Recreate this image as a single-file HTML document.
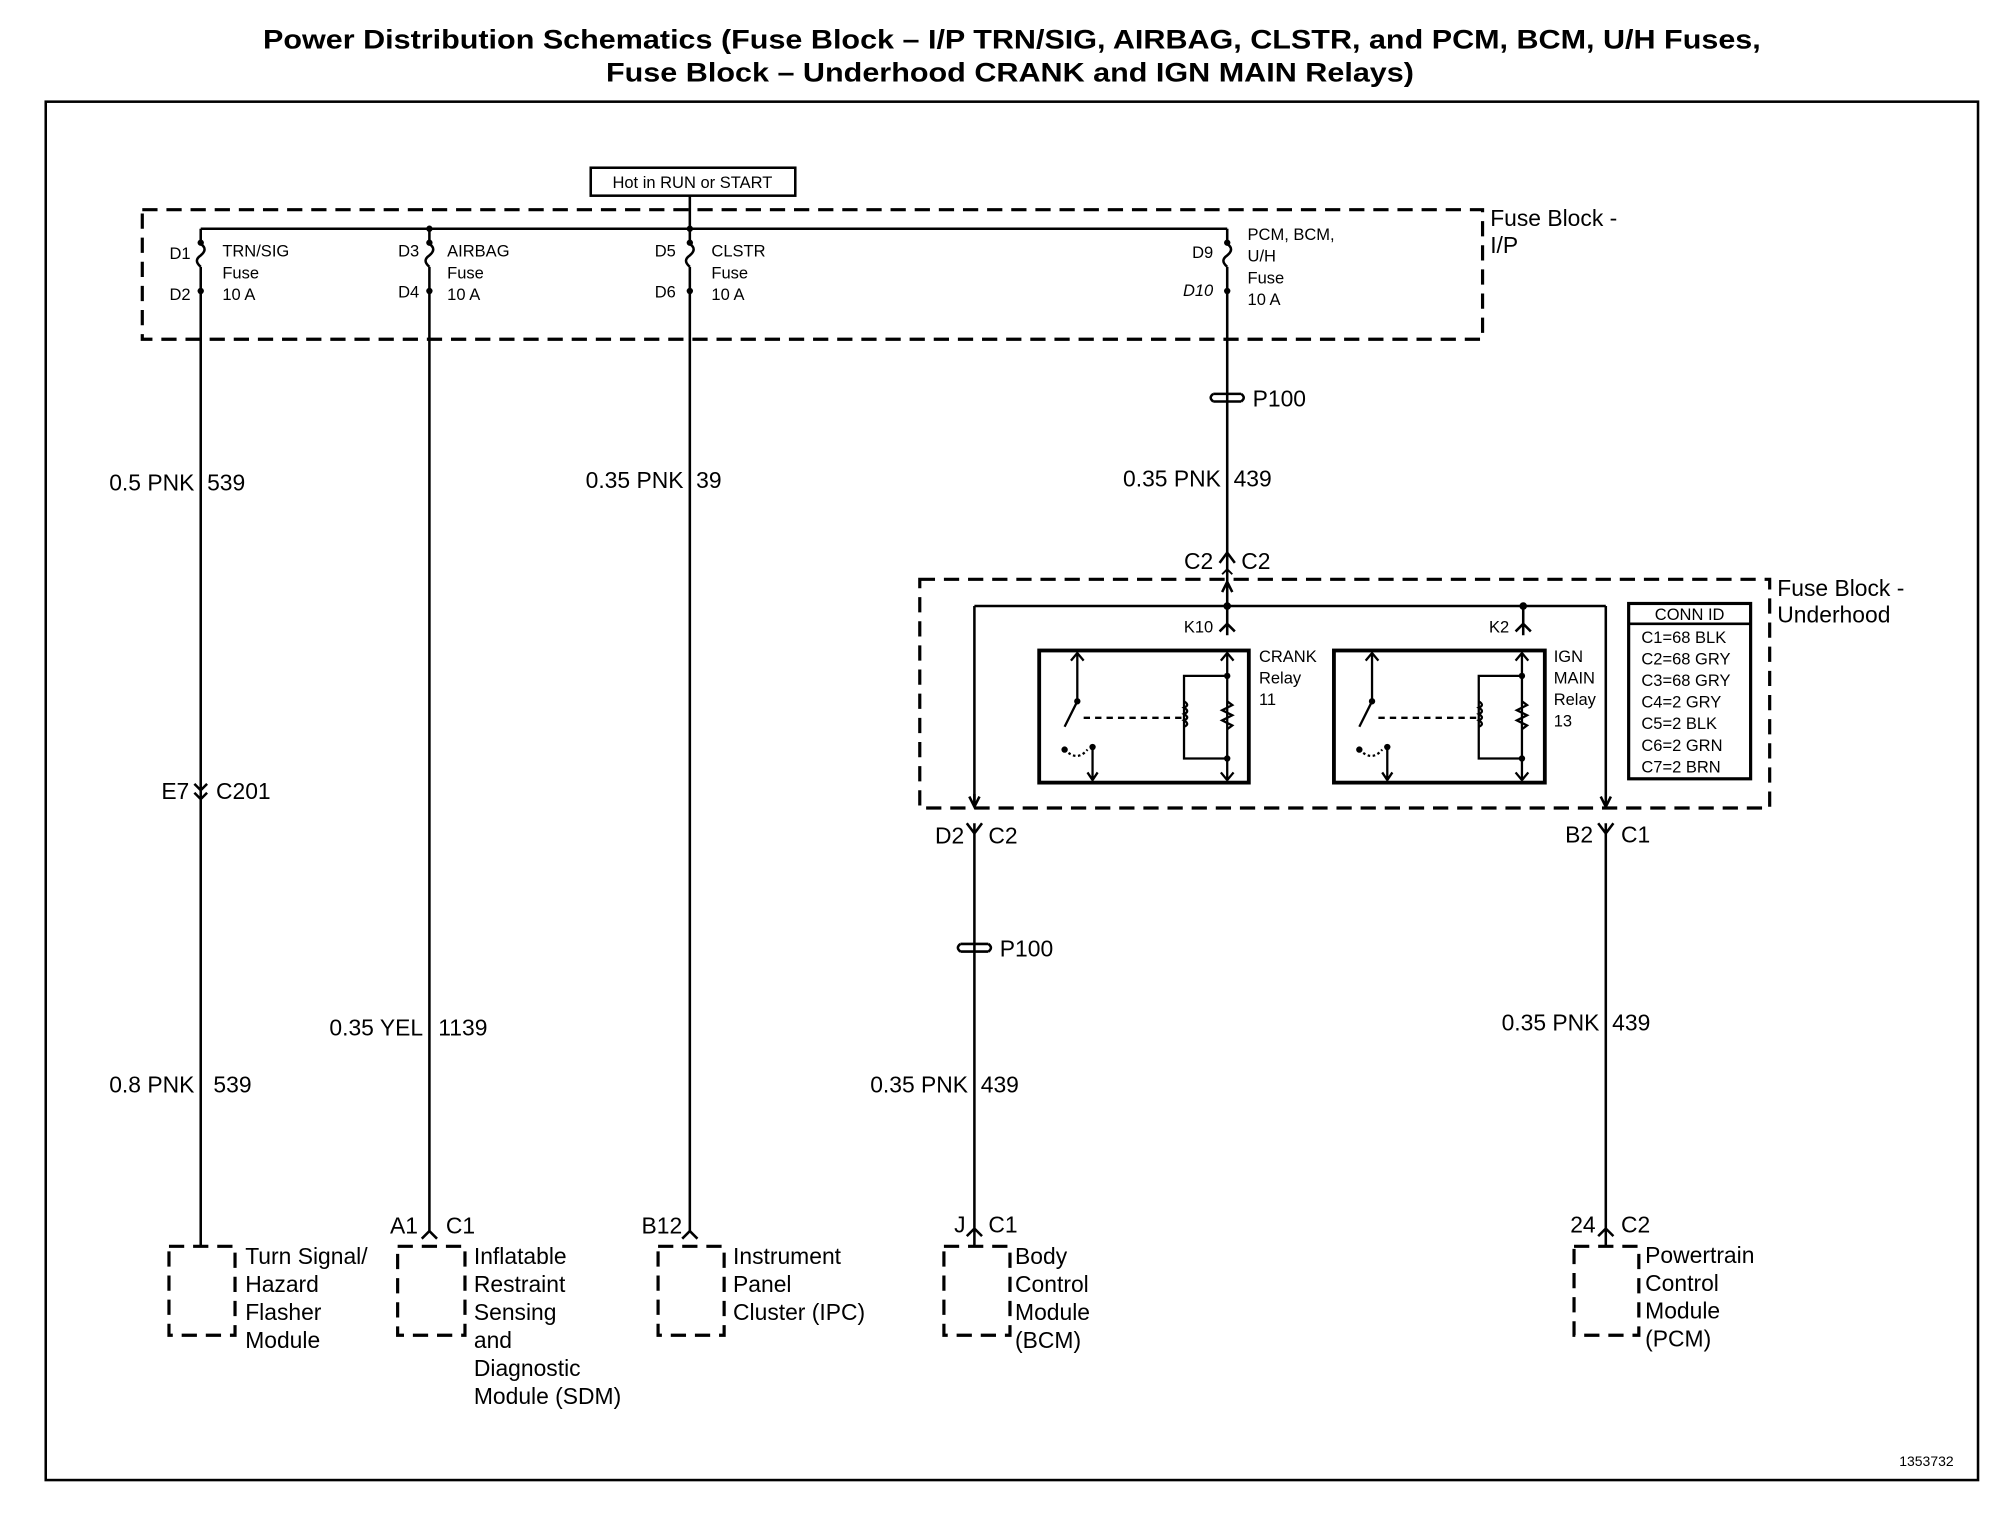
<!DOCTYPE html>
<html><head><meta charset="utf-8"><style>
html,body{margin:0;padding:0;background:#fff}
svg{display:block}
text{font-family:"Liberation Sans",sans-serif;fill:#000}
</style></head><body>
<svg width="1992" height="1536" viewBox="0 0 1568 1209" xmlns="http://www.w3.org/2000/svg">
<defs>
<marker id="ar" markerWidth="10" markerHeight="10" refX="5" refY="5" orient="auto" markerUnits="userSpaceOnUse"><path d="M1,1 L5,5 L1,9" fill="none" stroke="#000" stroke-width="1.5"/></marker>
</defs>
<g font-weight="bold" font-size="21">
<text x="207" y="38" textLength="1179" lengthAdjust="spacingAndGlyphs">Power Distribution Schematics (Fuse Block – I/P TRN/SIG, AIRBAG, CLSTR, and PCM, BCM, U/H Fuses,</text>
<text x="477" y="64" textLength="636" lengthAdjust="spacingAndGlyphs">Fuse Block – Underhood CRANK and IGN MAIN Relays)</text>
</g>
<rect x="36" y="80" width="1521" height="1085" fill="none" stroke="#000" stroke-width="2"/>
<rect x="465" y="132" width="161" height="22" fill="none" stroke="#000" stroke-width="2"/>
<text x="545" y="148" font-size="13" text-anchor="middle">Hot in RUN or START</text>
<g fill="none" stroke="#000" stroke-width="2.5" stroke-dasharray="12,7">
<rect x="112" y="165" width="1055" height="102"/>
<rect x="724" y="456" width="669" height="180"/>
<rect x="133" y="981" width="52" height="70"/>
<rect x="313" y="981" width="53" height="70"/>
<rect x="518" y="981" width="52" height="70"/>
<rect x="743" y="981" width="52" height="70"/>
<rect x="1239" y="981" width="51" height="70"/>
</g>
<g fill="none" stroke="#000" stroke-width="2">
<path d="M158,180 H966 M543,154 V180"/>
<path d="M158,180 V192 q6,4 0,9 q-6,4 0,9 M158,210 V980"/>
<path d="M338,180 V192 q6,4 0,9 q-6,4 0,9 M338,210 V970"/>
<path d="M543,180 V192 q6,4 0,9 q-6,4 0,9 M543,210 V970"/>
<path d="M966,180 V192 q6,4 0,9 q-6,4 0,9 M966,210 V448"/>
<path d="M966,448 V458" marker-end="url(#ar)" transform="rotate(180 966 453)"/>
<path d="M966,458 V500"/>
<path d="M767,477 H1264 M767,477 V634 M1264,477 V634 M1199,477 V500"/>
<path d="M767,625 v10 M763,627 l4,8 l4,-8 M1260,627 l4,8 l4,-8"/>
<path d="M962,466 l4,-8 l4,8"/>
<path d="M960,497 l6,-6 l6,6 M1193,497 l6,-6 l6,6"/>
<path d="M767,648 V930 M761,648 l6,8 l6,-8"/>
<path d="M1264,648 V930 M1258,648 l6,8 l6,-8"/>
<path d="M960,443 l6,-8 l6,8"/>
<path d="M767,930 V980 M761,973 l6,-6 l6,6"/>
<path d="M1264,930 V980 M1258,973 l6,-6 l6,6"/>
<path d="M332,975 l6,-6 l6,6 M537,975 l6,-6 l6,6"/>
<path d="M153,617 l5,5 l5,-5 M153,624 l5,5 l5,-5"/>
<path d="M955,310 h22 M955,316 h22 M955,310 q-4,3 0,6 M977,310 q4,3 0,6"/>
<path d="M756,743 h22 M756,749 h22 M756,743 q-4,3 0,6 M778,743 q4,3 0,6"/>
</g>
<g fill="#000">
<circle cx="158" cy="191" r="2.5"/><circle cx="158" cy="229" r="2.5"/>
<circle cx="338" cy="180" r="2.5"/><circle cx="338" cy="191" r="2.5"/><circle cx="338" cy="229" r="2.5"/>
<circle cx="543" cy="180" r="2.5"/><circle cx="543" cy="191" r="2.5"/><circle cx="543" cy="229" r="2.5"/>
<circle cx="966" cy="191" r="2.5"/><circle cx="966" cy="229" r="2.5"/>
<circle cx="966" cy="477" r="3"/><circle cx="1199" cy="477" r="3"/>
</g>
<g fill="none" stroke="#000">
<rect x="818" y="512" width="165" height="104" stroke-width="3"/>
<rect x="1050" y="512" width="166" height="104" stroke-width="3"/>
<g id="rl" stroke-width="1.8">
<path d="M848,514 V552 l-10,20 M843,520 l5,-6 l5,6"/>
<path d="M838,590 q10,10 18,0" stroke-dasharray="2,2"/>
<path d="M860,588 V614 M856,608 l4,6 l4,-6"/>
<path d="M853,565 H930" stroke-dasharray="5,4"/>
<path d="M966,514 V614 M961,520 l5,-6 l5,6 M961,608 l5,6 l5,-6"/>
<path d="M966,532 H932 V597 H966"/>
<path d="M932,552 q5,3 0,5 q5,3 0,5 q5,3 0,5 q5,3 0,5"/>
<path d="M966,552 l4,3 l-8,4 l8,4 l-8,4 l8,4 l-4,3"/>
</g>
<use href="#rl" x="232"/>
</g>
<g fill="#000">
<circle cx="848" cy="552" r="2.5"/><circle cx="838" cy="590" r="2.5"/><circle cx="860" cy="588" r="2.5"/><circle cx="966" cy="532" r="2.5"/><circle cx="966" cy="597" r="2.5"/>
<circle cx="1080" cy="552" r="2.5"/><circle cx="1070" cy="590" r="2.5"/><circle cx="1092" cy="588" r="2.5"/><circle cx="1198" cy="532" r="2.5"/><circle cx="1198" cy="597" r="2.5"/>
</g>
<rect x="1282" y="475" width="96" height="138" fill="none" stroke="#000" stroke-width="2.5"/>
<line x1="1282" y1="491" x2="1378" y2="491" stroke="#000" stroke-width="2"/>
<g font-size="13">
<text x="1330" y="488" text-anchor="middle">CONN ID</text>
<text x="1292" y="506">C1=68 BLK</text><text x="1292" y="523">C2=68 GRY</text><text x="1292" y="540">C3=68 GRY</text><text x="1292" y="557">C4=2 GRY</text><text x="1292" y="574">C5=2 BLK</text><text x="1292" y="591">C6=2 GRN</text><text x="1292" y="608">C7=2 BRN</text>
<text x="991" y="521">CRANK</text><text x="991" y="538">Relay</text><text x="991" y="555">11</text>
<text x="1223" y="521">IGN</text><text x="1223" y="538">MAIN</text><text x="1223" y="555">Relay</text><text x="1223" y="572">13</text>
<text x="955" y="498" text-anchor="end">K10</text><text x="1188" y="498" text-anchor="end">K2</text>
<text x="150" y="204" text-anchor="end">D1</text><text x="150" y="236" text-anchor="end">D2</text>
<text x="330" y="202" text-anchor="end">D3</text><text x="330" y="234" text-anchor="end">D4</text>
<text x="532" y="202" text-anchor="end">D5</text><text x="532" y="234" text-anchor="end">D6</text>
<text x="955" y="203" text-anchor="end">D9</text><text x="955" y="233" text-anchor="end" font-style="italic">D10</text>
<text x="175" y="202">TRN/SIG</text><text x="175" y="219">Fuse</text><text x="175" y="236">10 A</text>
<text x="352" y="202">AIRBAG</text><text x="352" y="219">Fuse</text><text x="352" y="236">10 A</text>
<text x="560" y="202">CLSTR</text><text x="560" y="219">Fuse</text><text x="560" y="236">10 A</text>
<text x="982" y="189">PCM, BCM,</text><text x="982" y="206">U/H</text><text x="982" y="223">Fuse</text><text x="982" y="240">10 A</text>
<text x="1495" y="1154" font-size="11">1353732</text>
</g>
<g font-size="18">
<text x="1173" y="178">Fuse Block -</text><text x="1173" y="199">I/P</text>
<text x="1399" y="469">Fuse Block -</text><text x="1399" y="490">Underhood</text>
<text x="986" y="320">P100</text><text x="787" y="753">P100</text>
<text x="153" y="386" text-anchor="end">0.5 PNK</text><text x="163" y="386">539</text>
<text x="538" y="384" text-anchor="end">0.35 PNK</text><text x="548" y="384">39</text>
<text x="961" y="383" text-anchor="end">0.35 PNK</text><text x="971" y="383">439</text>
<text x="955" y="448" text-anchor="end">C2</text><text x="977" y="448">C2</text>
<text x="149" y="629" text-anchor="end">E7</text><text x="170" y="629">C201</text>
<text x="759" y="664" text-anchor="end">D2</text><text x="778" y="664">C2</text>
<text x="1254" y="663" text-anchor="end">B2</text><text x="1276" y="663">C1</text>
<text x="333" y="815" text-anchor="end">0.35 YEL</text><text x="345" y="815">1139</text>
<text x="1259" y="811" text-anchor="end">0.35 PNK</text><text x="1269" y="811">439</text>
<text x="153" y="860" text-anchor="end">0.8 PNK</text><text x="168" y="860">539</text>
<text x="762" y="860" text-anchor="end">0.35 PNK</text><text x="772" y="860">439</text>
<text x="329" y="971" text-anchor="end">A1</text><text x="351" y="971">C1</text>
<text x="537" y="971" text-anchor="end">B12</text>
<text x="760" y="970" text-anchor="end">J</text><text x="778" y="970">C1</text>
<text x="1256" y="970" text-anchor="end">24</text><text x="1276" y="970">C2</text>
<text x="193" y="995">Turn Signal/</text><text x="193" y="1017">Hazard</text><text x="193" y="1039">Flasher</text><text x="193" y="1061">Module</text>
<text x="373" y="995">Inflatable</text><text x="373" y="1017">Restraint</text><text x="373" y="1039">Sensing</text><text x="373" y="1061">and</text><text x="373" y="1083">Diagnostic</text><text x="373" y="1105">Module (SDM)</text>
<text x="577" y="995">Instrument</text><text x="577" y="1017">Panel</text><text x="577" y="1039">Cluster (IPC)</text>
<text x="799" y="995">Body</text><text x="799" y="1017">Control</text><text x="799" y="1039">Module</text><text x="799" y="1061">(BCM)</text>
<text x="1295" y="994">Powertrain</text><text x="1295" y="1016">Control</text><text x="1295" y="1038">Module</text><text x="1295" y="1060">(PCM)</text>
</g>
</svg>
</body></html>
